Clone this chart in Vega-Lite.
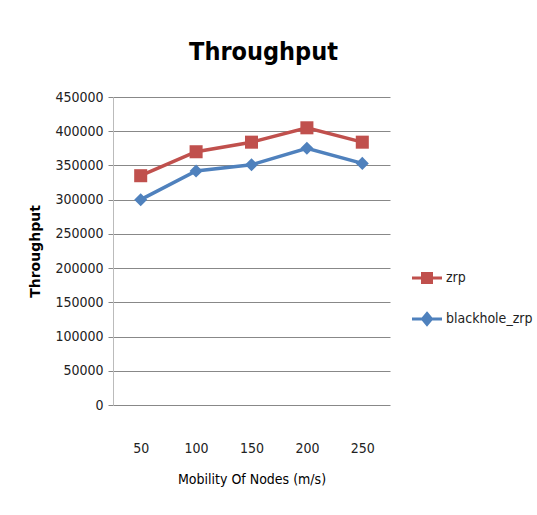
{
  "$schema": "https://vega.github.io/schema/vega-lite/v6.json",
  "width": 277,
  "height": 308,
  "autosize": {"type": "none"},
  "padding": {"left": 113, "top": 97, "right": 147, "bottom": 110},
  "background": "white",
  "title": {
    "text": "Throughput",
    "font": "DejaVu Sans Condensed, sans-serif",
    "fontSize": 25,
    "fontWeight": "bold",
    "color": "black",
    "anchor": "middle",
    "dx": 12,
    "offset": 25
  },
  "data": {
    "values": [
      {"mobility": "50", "series": "zrp", "throughput": 335000},
      {"mobility": "100", "series": "zrp", "throughput": 370000},
      {"mobility": "150", "series": "zrp", "throughput": 384000},
      {"mobility": "200", "series": "zrp", "throughput": 405000},
      {"mobility": "250", "series": "zrp", "throughput": 384000},
      {"mobility": "50", "series": "blackhole_zrp", "throughput": 300000},
      {"mobility": "100", "series": "blackhole_zrp", "throughput": 342000},
      {"mobility": "150", "series": "blackhole_zrp", "throughput": 351000},
      {"mobility": "200", "series": "blackhole_zrp", "throughput": 375000},
      {"mobility": "250", "series": "blackhole_zrp", "throughput": 353000}
    ]
  },
  "encoding": {
    "x": {
      "field": "mobility",
      "type": "ordinal",
      "sort": ["50", "100", "150", "200", "250"],
      "scale": {"type": "point", "padding": 0.5},
      "axis": {
        "title": "Mobility Of Nodes (m/s)",
        "titleFont": "DejaVu Sans Condensed, sans-serif",
        "titleFontSize": 14,
        "titleFontWeight": "normal",
        "titleColor": "black",
        "titlePadding": 17,
        "labelFont": "DejaVu Sans Condensed, sans-serif",
        "labelFontSize": 14,
        "labelColor": "#222",
        "labelAngle": 0,
        "labelPadding": 36,
        "ticks": false,
        "domain": false,
        "grid": false
      }
    },
    "y": {
      "field": "throughput",
      "type": "quantitative",
      "scale": {"domain": [0, 450000]},
      "axis": {
        "title": "Throughput",
        "titleFont": "DejaVu Sans, sans-serif",
        "titleFontSize": 14,
        "titleFontWeight": "bold",
        "titleColor": "black",
        "titlePadding": 12,
        "labelFont": "DejaVu Sans Condensed, sans-serif",
        "labelFontSize": 14,
        "labelColor": "#222",
        "labelPadding": 5,
        "values": [0, 50000, 100000, 150000, 200000, 250000, 300000, 350000, 400000, 450000],
        "format": "d",
        "tickSize": 5,
        "tickColor": "#888",
        "domainColor": "#bbb",
        "gridColor": "#888",
        "gridWidth": 1
      }
    }
  },
  "layer": [
    {
      "mark": {"type": "line", "strokeWidth": 3.5},
      "encoding": {
        "color": {
          "field": "series",
          "type": "nominal",
          "sort": ["zrp", "blackhole_zrp"],
          "scale": {"domain": ["zrp", "blackhole_zrp"], "range": ["#c0504d", "#4f81bd"]},
          "legend": {
            "title": null,
            "orient": "none",
            "legendX": 307,
            "legendY": 174,
            "labelFont": "DejaVu Sans Condensed, sans-serif",
            "labelFontSize": 14,
            "labelColor": "#222",
            "labelOffset": 12,
            "rowPadding": 18,
            "symbolSize": 100,
            "symbolStrokeWidth": 3,
            "padding": 0,
            "encode": {
              "symbols": {
                "update": {
                  "shape": {"signal": "datum.value === 'zrp' ? 'M-3,0H3M-0.9,-0.9H0.9V0.9H-0.9Z' : 'M-3,0H3M0,-1.1L0.9,0L0,1.1L-0.9,0Z'"},
                  "fill": {"signal": "datum.value === 'zrp' ? '#c0504d' : '#4f81bd'"},
                  "fillOpacity": {"value": 1},
                  "strokeWidth": {"value": 3}
                }
              }
            }
          }
        }
      }
    },
    {
      "transform": [{"filter": "datum.series === 'zrp'"}],
      "mark": {"type": "point", "shape": "square", "filled": true, "opacity": 1, "size": 170},
      "encoding": {
        "color": {"field": "series", "type": "nominal", "legend": null}
      }
    },
    {
      "transform": [{"filter": "datum.series === 'blackhole_zrp'"}],
      "mark": {"type": "point", "shape": "diamond", "filled": true, "opacity": 1, "size": 170},
      "encoding": {
        "color": {"field": "series", "type": "nominal", "legend": null}
      }
    }
  ],
  "config": {
    "view": {"stroke": null}
  }
}
